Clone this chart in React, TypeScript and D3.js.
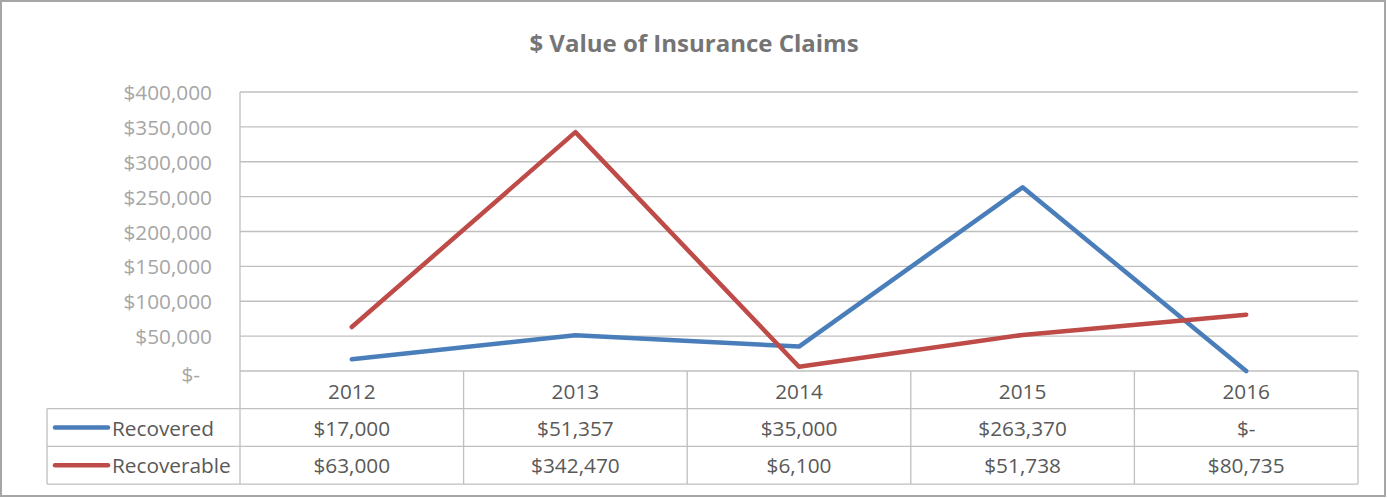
import React from "react";
import * as d3 from "d3";

const title = "$ Value of Insurance Claims";
const years = ["2012", "2013", "2014", "2015", "2016"];
const recovered = [17000, 51357, 35000, 263370, 0];
const recoverable = [63000, 342470, 6100, 51738, 80735];
const yTicks = [0, 50000, 100000, 150000, 200000, 250000, 300000, 350000, 400000];
const seriesNames = ["Recovered", "Recoverable"];
const seriesColors = ["#4a7ebb", "#be4b48"];

const W = 1387;
const H = 498;
const plot = { left: 240, right: 1358, top: 92, bottom: 371 };
const rowH = 37.7;
const legendLeft = 47;
const FONT = "'Open Sans', sans-serif";
const FS = 20.8;

function money(v: number): string {
  if (v === 0) return "$-";
  return "$" + d3.format(",")(v);
}

export default function App() {
  const x = d3.scaleBand<string>().domain(years).range([plot.left, plot.right]);
  const y = d3.scaleLinear().domain([0, 400000]).range([plot.bottom, plot.top]);
  const cx = (d: string) => (x(d) as number) + x.bandwidth() / 2;
  const line = d3
    .line<number>()
    .x((_, i) => cx(years[i]))
    .y((v) => y(v));
  const series = [recovered, recoverable];
  const tableBottom = plot.bottom + rowH * 3;
  const grid = "#bfbfbf";

  return (
    <svg
      width={W}
      height={H}
      style={{ position: "absolute", left: 0, top: 0, background: "#fff" }}
      fontFamily={FONT}
    >
      <rect x={1} y={1} width={W - 3} height={H - 3} fill="#fff" stroke="#a6a6a6" strokeWidth={2} />
      <text
        x={694}
        y={52}
        textAnchor="middle"
        fontWeight="bold"
        fontSize={24}
        fill="#757575"
      >
        {title}
      </text>
      {/* gridlines */}
      {yTicks.map((t) => (
        <line key={t} x1={plot.left} x2={plot.right} y1={y(t)} y2={y(t)} stroke={grid} strokeWidth={1.3} />
      ))}
      <line x1={plot.left} x2={plot.left} y1={plot.top} y2={tableBottom} stroke={grid} strokeWidth={1.3} />
      {/* y tick labels */}
      {yTicks.map((t) => (
        <text
          key={"l" + t}
          x={t === 0 ? 200 : 212}
          y={y(t) + (t === 0 ? 3 : 0)}
          textAnchor="end"
          dominantBaseline="central"
          fontSize={FS}
          fill="#a6a6a6"
        >
          {money(t)}
        </text>
      ))}
      {/* table */}
      {years.map((yr) => (
        <line
          key={"v" + yr}
          x1={(x(yr) as number) + x.bandwidth()}
          x2={(x(yr) as number) + x.bandwidth()}
          y1={plot.bottom}
          y2={tableBottom}
          stroke={grid}
          strokeWidth={1.3}
        />
      ))}
      {[1, 2, 3].map((r) => (
        <line
          key={"h" + r}
          x1={legendLeft}
          x2={plot.right}
          y1={plot.bottom + rowH * r}
          y2={plot.bottom + rowH * r}
          stroke={grid}
          strokeWidth={1.3}
        />
      ))}
      <line x1={legendLeft} x2={legendLeft} y1={plot.bottom + rowH} y2={tableBottom} stroke={grid} strokeWidth={1.3} />
      {years.map((yr) => (
        <text
          key={"y" + yr}
          x={cx(yr)}
          y={plot.bottom + rowH / 2 + 1}
          textAnchor="middle"
          dominantBaseline="central"
          fontSize={FS}
          fill="#595959"
        >
          {yr}
        </text>
      ))}
      {series.map((s, si) => (
        <g key={"row" + si}>
          <line
            x1={55}
            x2={108}
            y1={plot.bottom + rowH * (si + 1.5)}
            y2={plot.bottom + rowH * (si + 1.5)}
            stroke={seriesColors[si]}
            strokeWidth={4.5}
            strokeLinecap="round"
          />
          <text
            x={112}
            y={plot.bottom + rowH * (si + 1.5)}
            dominantBaseline="central"
            fontSize={FS}
            fill="#595959"
          >
            {seriesNames[si]}
          </text>
          {s.map((v, i) => (
            <text
              key={i}
              x={cx(years[i])}
              y={plot.bottom + rowH * (si + 1.5)}
              textAnchor="middle"
              dominantBaseline="central"
              fontSize={FS}
              fill="#595959"
            >
              {money(v)}
            </text>
          ))}
        </g>
      ))}
      {/* lines */}
      {series.map((s, si) => (
        <path
          key={"p" + si}
          d={line(s) as string}
          fill="none"
          stroke={seriesColors[si]}
          strokeWidth={4.5}
          strokeLinecap="round"
          strokeLinejoin="round"
        />
      ))}
    </svg>
  );
}
